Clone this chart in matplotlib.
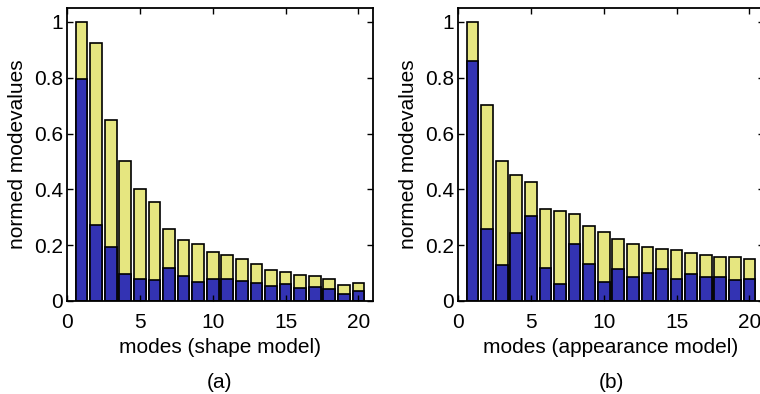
import numpy as np
import matplotlib
matplotlib.use("Agg")
import matplotlib.pyplot as plt

plt.rcParams['font.family'] = ['Liberation Sans', 'DejaVu Sans']

# valores (modos 1..20)
modes = np.arange(1, 21)

shape_total = [1.00, 0.923, 0.647, 0.500, 0.400, 0.354, 0.258, 0.219, 0.204, 0.177,
               0.165, 0.150, 0.134, 0.110, 0.104, 0.094, 0.089, 0.079, 0.056, 0.064]
shape_part = [0.796, 0.273, 0.192, 0.096, 0.078, 0.076, 0.120, 0.089, 0.068, 0.078,
              0.078, 0.070, 0.064, 0.054, 0.060, 0.048, 0.050, 0.042, 0.026, 0.036]

app_total = [1.00, 0.704, 0.500, 0.453, 0.426, 0.330, 0.324, 0.312, 0.269, 0.248,
             0.223, 0.204, 0.192, 0.186, 0.182, 0.171, 0.164, 0.156, 0.158, 0.150]
app_part = [0.860, 0.258, 0.128, 0.243, 0.306, 0.120, 0.060, 0.204, 0.134, 0.068,
            0.114, 0.086, 0.102, 0.114, 0.078, 0.096, 0.086, 0.086, 0.074, 0.078]

xlabels = ['modes (shape model)', 'modes (appearance model)']
captions = ['(a)', '(b)']

yellow = '#e6e680'
blue = '#3333b3'

fig = plt.figure(figsize=(7.6, 3.94), dpi=100)
ax1 = fig.add_axes([67/760, 93/394, 306/760, 293/394])
ax2 = fig.add_axes([458/760, 93/394, 306/760, 293/394])

for ax, tot, part, xl, cap in zip([ax1, ax2], [shape_total, app_total],
                                  [shape_part, app_part], xlabels, captions):
    ax.bar(modes, tot, width=0.8, color=yellow, edgecolor='black', linewidth=1.2)
    ax.bar(modes, part, width=0.8, color=blue, edgecolor='black', linewidth=1.2)
    ax.set_xlim(0, 21)
    ax.set_ylim(0, 1.05)
    ax.set_xticks([0, 5, 10, 15, 20])
    ax.set_yticks([0, 0.2, 0.4, 0.6, 0.8, 1.0])
    ax.set_yticklabels(['0', '0.2', '0.4', '0.6', '0.8', '1'])
    ax.tick_params(direction='in', top=True, right=True, length=4, width=1,
                   labelsize=15, pad=3)
    ax.tick_params(axis='x', pad=9)
    for s in ax.spines.values():
        s.set_linewidth(1.3)
    ax.set_xlabel(xl, fontsize=15, labelpad=4)
    ax.set_ylabel('normed modevalues', fontsize=15, labelpad=5)
    pos = ax.get_position()
    fig.text(pos.x0 + pos.width/2, 12/394, cap, ha='center', va='center', fontsize=15)

fig.savefig('out.png', dpi=100)
